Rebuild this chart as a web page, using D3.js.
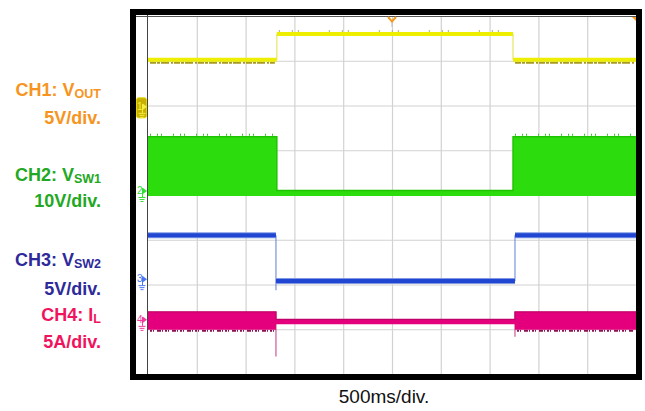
<!DOCTYPE html>
<html>
<head>
<meta charset="utf-8">
<title>Scope capture</title>
<script src="https://cdn.jsdelivr.net/npm/d3@7"></script>
<style>
  body { margin: 0; background: #fff; }
  svg { display: block; font-family: "Liberation Sans", Arial, sans-serif; }
  .grid line { stroke: #d2d2d2; stroke-width: 1.2; }
  .grid .domain { display: none; }
  .label { font-weight: bold; font-size: 18px; text-anchor: end; }
</style>
</head>
<body>
<svg width="645" height="411"></svg>
<script>
// horizontal: 500 ms/div, 10 div ; vertical: 8 div
var timeTicks = [0, 500, 1000, 1500, 2000, 2500, 3000, 3500, 4000, 4500, 5000];
var divTicks = [-4, -3, -2, -1, 0, 1, 2, 3, 4];

// CH1 Vout (V)
var ch1Times = [0, 1320, 3740, 5000];
var ch1Vout = [5.25, 8.15, 5.25, 5.25];

// CH2 Vsw1 (V), envelope of the switching node
var ch2Times = [0, 1320, 3740, 5000];
var ch2Max = [12.1, 0.1, 12.1, 12.1];
var ch2Min = [-1.1, -1.1, -1.1, -1.1];

// CH3 Vsw2 (V)
var ch3Times = [0, 1311, 3760, 5000];
var ch3Vsw2 = [4.9, -0.2, 4.9, 4.9];
var ch3Spikes = [[1311, -1.25]];

// CH4 IL (A), envelope
var ch4Times = [0, 1311, 3760, 5000];
var ch4Max = [0.9, 0.05, 0.9, 0.9];
var ch4Min = [-1.1, -0.5, -1.1, -1.1];
var ch4Spikes = [[1311, -4.1], [3760, -1.9]];

var channels = [
  { id: 1, name: 'CH1: V', sub: 'OUT', scale: '5V/div.', perDiv: 5, ground: 1.97, trace: '#eeee00', mark: '#c9b800', text: '#f7941d' },
  { id: 2, name: 'CH2: V', sub: 'SW1', scale: '10V/div.', perDiv: 10, ground: 0.09, trace: '#2ddc0c', mark: '#33dd33', text: '#22a822' },
  { id: 3, name: 'CH3: V', sub: 'SW2', scale: '5V/div.', perDiv: 5, ground: -1.88, trace: '#2146d2', mark: '#4a78f0', text: '#2e2a9a' },
  { id: 4, name: 'CH4: I', sub: 'L', scale: '5A/div.', perDiv: 5, ground: -2.79, trace: '#e4007c', mark: '#f03c9c', text: '#f0145e' }
];

var svg = d3.select('svg');
var x = d3.scaleLinear().domain([0, 5000]).range([148, 636]);
var yDiv = d3.scaleLinear().domain([-4, 4]).range([374, 16]);
function yCh(ch) {
  return function(v) { return yDiv(ch.ground + v / ch.perDiv); };
}

// frame
svg.append('rect').attr('x', 130).attr('y', 9).attr('width', 512).attr('height', 371).attr('fill', '#000');
svg.append('rect').attr('x', 136).attr('y', 15).attr('width', 500).attr('height', 359).attr('fill', '#fff');

// graticule
svg.append('g').attr('class', 'grid')
  .attr('transform', 'translate(0,374)')
  .call(d3.axisBottom(x).tickValues(timeTicks.slice(1, -1)).tickSize(-358).tickFormat(''));
svg.append('g').attr('class', 'grid')
  .attr('transform', 'translate(148,0)')
  .call(d3.axisLeft(yDiv).tickValues(divTicks.slice(1, -1)).tickSize(-488).tickFormat(''));
svg.append('line').attr('x1', 136).attr('x2', 636).attr('y1', 16.5).attr('y2', 16.5).attr('stroke', '#555');
svg.append('line').attr('x1', 147.5).attr('x2', 147.5).attr('y1', 15).attr('y2', 374).attr('stroke', '#444');

// trigger markers
svg.append('line').attr('x1', x(2500)).attr('x2', x(2500)).attr('y1', 20).attr('y2', 27).attr('stroke', '#bbb');
svg.append('path').attr('d', d3.line()([[x(2500) - 4, 17], [x(2500), 21.5], [x(2500) + 4, 17]]))
  .attr('fill', 'none').attr('stroke', '#f39a1e').attr('stroke-width', 2);
svg.append('path').attr('d', d3.line()([[x(5000) - 4, 17], [x(5000), 17], [x(5000), 21]]) + 'Z').attr('fill', '#f39a1e');

var plot = svg.append('g');

function bandFrom(times, hi, lo) {
  return times.map(function(t, i) { return { t: t, hi: hi[i], lo: lo[i] }; });
}

function drawBand(ch, pts, color, opts) {
  var y = yCh(ch);
  var pad = opts.pad || 0;
  plot.append('path').datum(pts)
    .attr('fill', color)
    .attr('d', d3.area().curve(d3.curveStepAfter)
      .x(function(d) { return x(d.t); })
      .y0(function(d) { return y(d.lo) + pad; })
      .y1(function(d) { return y(d.hi) - pad; }));
}

function drawEdges(ch, times, hi, lo, spikes, color) {
  var y = yCh(ch);
  for (var i = 1; i < times.length - 1; i++) {
    var vals = [hi[i - 1], hi[i], lo[i - 1], lo[i]];
    (spikes || []).forEach(function(s) { if (s[0] === times[i]) vals.push(s[1]); });
    plot.append('line')
      .attr('x1', x(times[i])).attr('x2', x(times[i]))
      .attr('y1', y(d3.max(vals))).attr('y2', y(d3.min(vals)))
      .attr('stroke', color).attr('stroke-width', 1.2).attr('opacity', 0.8);
  }
}

// small noise ticks along a level (stroke pattern only)
function drawNoise(ch, times, vals, offset, color, dash, keep) {
  var y = yCh(ch);
  for (var i = 0; i < times.length - 1; i++) {
    if (!keep(i)) continue;
    plot.append('line')
      .attr('x1', x(times[i]) + 2).attr('x2', x(times[i + 1]) - 2)
      .attr('y1', y(vals[i]) + offset).attr('y2', y(vals[i]) + offset)
      .attr('stroke', color).attr('stroke-width', 2).attr('stroke-dasharray', dash);
  }
}

// CH1
var c1 = channels[0];
drawNoise(c1, ch1Times, ch1Vout, 3, '#a89a20', '6,1,3,1,8,2,2,1', function(i) { return ch1Vout[i] < 6; });
drawNoise(c1, ch1Times, ch1Vout, -3, '#b8b060', '1,12,1,5,1,30', function(i) { return ch1Vout[i] > 6; });
drawBand(c1, bandFrom(ch1Times, ch1Vout, ch1Vout), c1.trace, { pad: 2 });
drawEdges(c1, ch1Times, ch1Vout, ch1Vout, null, '#e4e040');

// CH2
var c2 = channels[1];
drawNoise(c2, ch2Times, ch2Max, -2, '#30c020', '1,6,1,3,1,11', function(i) { return ch2Max[i] > 5; });
drawBand(c2, bandFrom(ch2Times, ch2Max, ch2Min), c2.trace, { pad: 0 });
plot.append('path').datum(bandFrom(ch2Times, ch2Max, ch2Min))
  .attr('fill', 'none').attr('stroke', '#1fc400').attr('stroke-width', 1.5)
  .attr('d', d3.line().curve(d3.curveStepAfter)
    .x(function(d) { return x(d.t); })
    .y(function(d) { return yCh(c2)(d.hi); }));

// CH3
var c3 = channels[2];
drawEdges(c3, ch3Times, ch3Vsw2, ch3Vsw2, ch3Spikes, '#5a7ad8');
drawBand(c3, bandFrom(ch3Times, ch3Vsw2, ch3Vsw2), '#7d98e4', { pad: 3 });
drawBand(c3, bandFrom(ch3Times, ch3Vsw2, ch3Vsw2), c3.trace, { pad: 2 });

// CH4
var c4 = channels[3];
drawEdges(c4, ch4Times, ch4Max, ch4Min, ch4Spikes, '#c0307a');
drawNoise(c4, ch4Times, ch4Min, 1, '#8a1050', '2,1,1,3,4,1,1,2', function(i) { return ch4Max[i] > 0.5; });
drawBand(c4, bandFrom(ch4Times, ch4Max, ch4Min), c4.trace, { pad: 0 });
plot.append('path').datum(bandFrom(ch4Times, ch4Max, ch4Min))
  .attr('fill', 'none').attr('stroke', '#c2006a').attr('stroke-width', 1.2)
  .attr('d', d3.line().curve(d3.curveStepAfter)
    .x(function(d) { return x(d.t); })
    .y(function(d) { return yCh(c4)(d.hi); }));

// ground markers
channels.forEach(function(ch) {
  var gy = yDiv(ch.ground);
  var g = svg.append('g').attr('transform', 'translate(136,' + gy + ')');
  if (ch.id === 1) {
    g.append('rect').attr('x', 0.5).attr('y', -9).attr('width', 10).attr('height', 20).attr('rx', 2)
      .attr('fill', '#c8b000').attr('stroke', '#e8d800');
  }
  var col = ch.id === 1 ? '#f4ee40' : ch.mark;
  g.append('text').attr('x', 1).attr('y', 3).attr('font-size', 10).attr('fill', col).text(ch.id);
  g.append('line').attr('x1', 6.5).attr('x2', 6.5).attr('y1', -3).attr('y2', 6).attr('stroke', col);
  g.append('path').attr('d', 'M7,-3L11,0L7,3Z').attr('fill', col);
  [[3, 10], [4, 9], [5, 8]].forEach(function(p, k) {
    g.append('line').attr('x1', p[0] - 0.5).attr('x2', p[1] - 0.5)
      .attr('y1', 6.5 + k * 2).attr('y2', 6.5 + k * 2).attr('stroke', col);
  });
});

// channel labels
var labelY = [[96, 124], [181, 207], [266, 295], [321, 348]];
channels.forEach(function(ch, i) {
  var t = svg.append('text').attr('class', 'label').attr('x', 101).attr('y', labelY[i][0]).attr('fill', ch.text);
  t.append('tspan').text(ch.name);
  t.append('tspan').attr('font-size', 12.5).attr('dy', 2).text(ch.sub);
  svg.append('text').attr('class', 'label').attr('x', 101).attr('y', labelY[i][1]).attr('fill', ch.text).text(ch.scale);
});

svg.append('text').attr('x', 384).attr('y', 403).attr('text-anchor', 'middle')
  .attr('font-size', 19).attr('fill', '#111').text('500ms/div.');
</script>
</body>
</html>
